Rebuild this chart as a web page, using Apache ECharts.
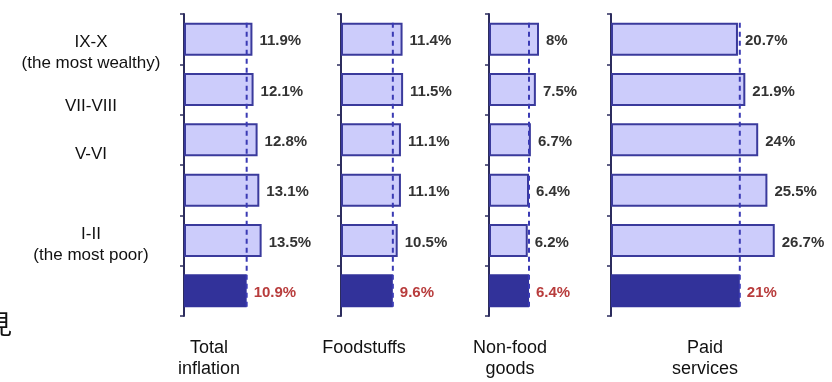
<!DOCTYPE html>
<html>
<head>
<meta charset="utf-8">
<script src="https://cdn.jsdelivr.net/npm/echarts@6/dist/echarts.min.js"></script>
<style>
  html, body { margin: 0; padding: 0; background: #ffffff; }
  #chart { width: 832px; height: 382px; }
</style>
</head>
<body>
<div id="chart"></div>
<script>
// Income groups (deciles), top to bottom; the last row is the overall figure
const groups = ['IX-X', 'VII-VIII', 'V-VI', 'III-IV', 'I-II', 'All'];
const groupLabels = ['IX-X\n(the most wealthy)', 'VII-VIII', 'V-VI', '', 'I-II\n(the most poor)', ''];

// Inflation by component, %, per income group
const totalInflation = [11.9, 12.1, 12.8, 13.1, 13.5, 10.9];
const foodstuffs     = [11.4, 11.5, 11.1, 11.1, 10.5, 9.6];
const nonFoodGoods   = [8, 7.5, 6.7, 6.4, 6.2, 6.4];
const paidServices   = [20.7, 21.9, 24, 25.5, 26.7, 21];

const panelTitles = ['Total\ninflation', 'Foodstuffs', 'Non-food\ngoods', 'Paid\nservices'];
const panelSeries = [totalInflation, foodstuffs, nonFoodGoods, paidServices];

// Layout of the four small panels
const panelLayout = [
  { left: 184, width: 115, max: 20, titleX: 209 },
  { left: 341, width: 108, max: 20, titleX: 364 },
  { left: 489, width: 62.5, max: 10, titleX: 510 },
  { left: 611, width: 184, max: 30, titleX: 705 }
];
const gridTop = 14, gridHeight = 302;
const BAR_W = 33;
const overallIndex = groups.length - 1;

const FONT = '"Liberation Sans", Arial, sans-serif';
const AXIS_COLOR = '#2c2c5e';
const LIGHT_FILL = '#ccccfb';
const DARK_FILL = '#32329a';
const EDGE = '#3a3a9c';
const REF_LINE = '#3a3ab4';

const chart = echarts.init(document.getElementById('chart'), null, { renderer: 'canvas' });

// Vertical dashed reference line at the overall value, spanning the bars
function refLine(params, api) {
  const v = api.value(0);
  const topPt = api.coord([v, groups[0]]);
  const botPt = api.coord([v, groups[overallIndex]]);
  return {
    type: 'line',
    shape: { x1: topPt[0], y1: topPt[1] - BAR_W / 2, x2: botPt[0], y2: botPt[1] + BAR_W / 2 },
    style: { stroke: REF_LINE, lineWidth: 2, lineDash: [5, 4] }
  };
}

const grids = [], xAxes = [], yAxes = [], series = [];
panelSeries.forEach((values, p) => {
  const L = panelLayout[p];
  grids.push({ left: L.left, top: gridTop, width: L.width, height: gridHeight, containLabel: false });
  xAxes.push({ type: 'value', gridIndex: p, min: 0, max: L.max, show: false });
  yAxes.push({
    type: 'category', gridIndex: p, data: groups, inverse: true,
    axisLine: { show: true, lineStyle: { color: AXIS_COLOR, width: 2 } },
    axisTick: { show: true, length: 4, lineStyle: { color: AXIS_COLOR, width: 1.5 } },
    axisLabel: { show: false },
    splitLine: { show: false }
  });
  series.push({
    type: 'bar', xAxisIndex: p, yAxisIndex: p,
    barWidth: BAR_W,
    data: values.map((v, i) => i === overallIndex
      ? { value: v, itemStyle: { color: DARK_FILL, borderColor: DARK_FILL }, label: { color: '#b83c3c' } }
      : v),
    itemStyle: { color: LIGHT_FILL, borderColor: EDGE, borderWidth: 2 },
    label: {
      show: true, position: 'right', distance: 7, offset: [0, 2],
      formatter: '{c}%', fontFamily: FONT, fontWeight: 'bold', fontSize: 15, color: '#333333'
    },
    z: 2,
    animation: false
  });
  series.push({
    type: 'custom', xAxisIndex: p, yAxisIndex: p,
    data: [[values[overallIndex], groups[0]]],
    encode: { x: 0, y: 1 },
    renderItem: refLine,
    silent: true,
    z: 5,
    animation: false
  });
});

chart.setOption({
  animation: false,
  grid: grids, xAxis: xAxes, yAxis: yAxes, series: series
});

// Row captions beside the first panel and captions beneath each panel
const rowShift = [14, 17, 14, 0, 4, 0];
const graphics = [];
groupLabels.forEach((txt, i) => {
  if (!txt) return;
  const y = chart.convertToPixel({ yAxisIndex: 0 }, groups[i]) + rowShift[i];
  graphics.push({
    type: 'text', x: 91, y: y,
    style: { text: txt, font: '17px ' + FONT, fill: '#111111', align: 'center', verticalAlign: 'middle', lineHeight: 21 }
  });
});
panelTitles.forEach((txt, p) => {
  graphics.push({
    type: 'text', x: panelLayout[p].titleX, y: 338,
    style: { text: txt, font: '18px ' + FONT, fill: '#111111', align: 'center', verticalAlign: 'top', lineHeight: 21 }
  });
});
graphics.push({
  type: 'text', x: -14, y: 311,
  style: { text: '見', font: '26px "Noto Sans CJK JP"', fill: '#111111', align: 'left', verticalAlign: 'top' }
});
chart.setOption({ graphic: graphics });
</script>
</body>
</html>
